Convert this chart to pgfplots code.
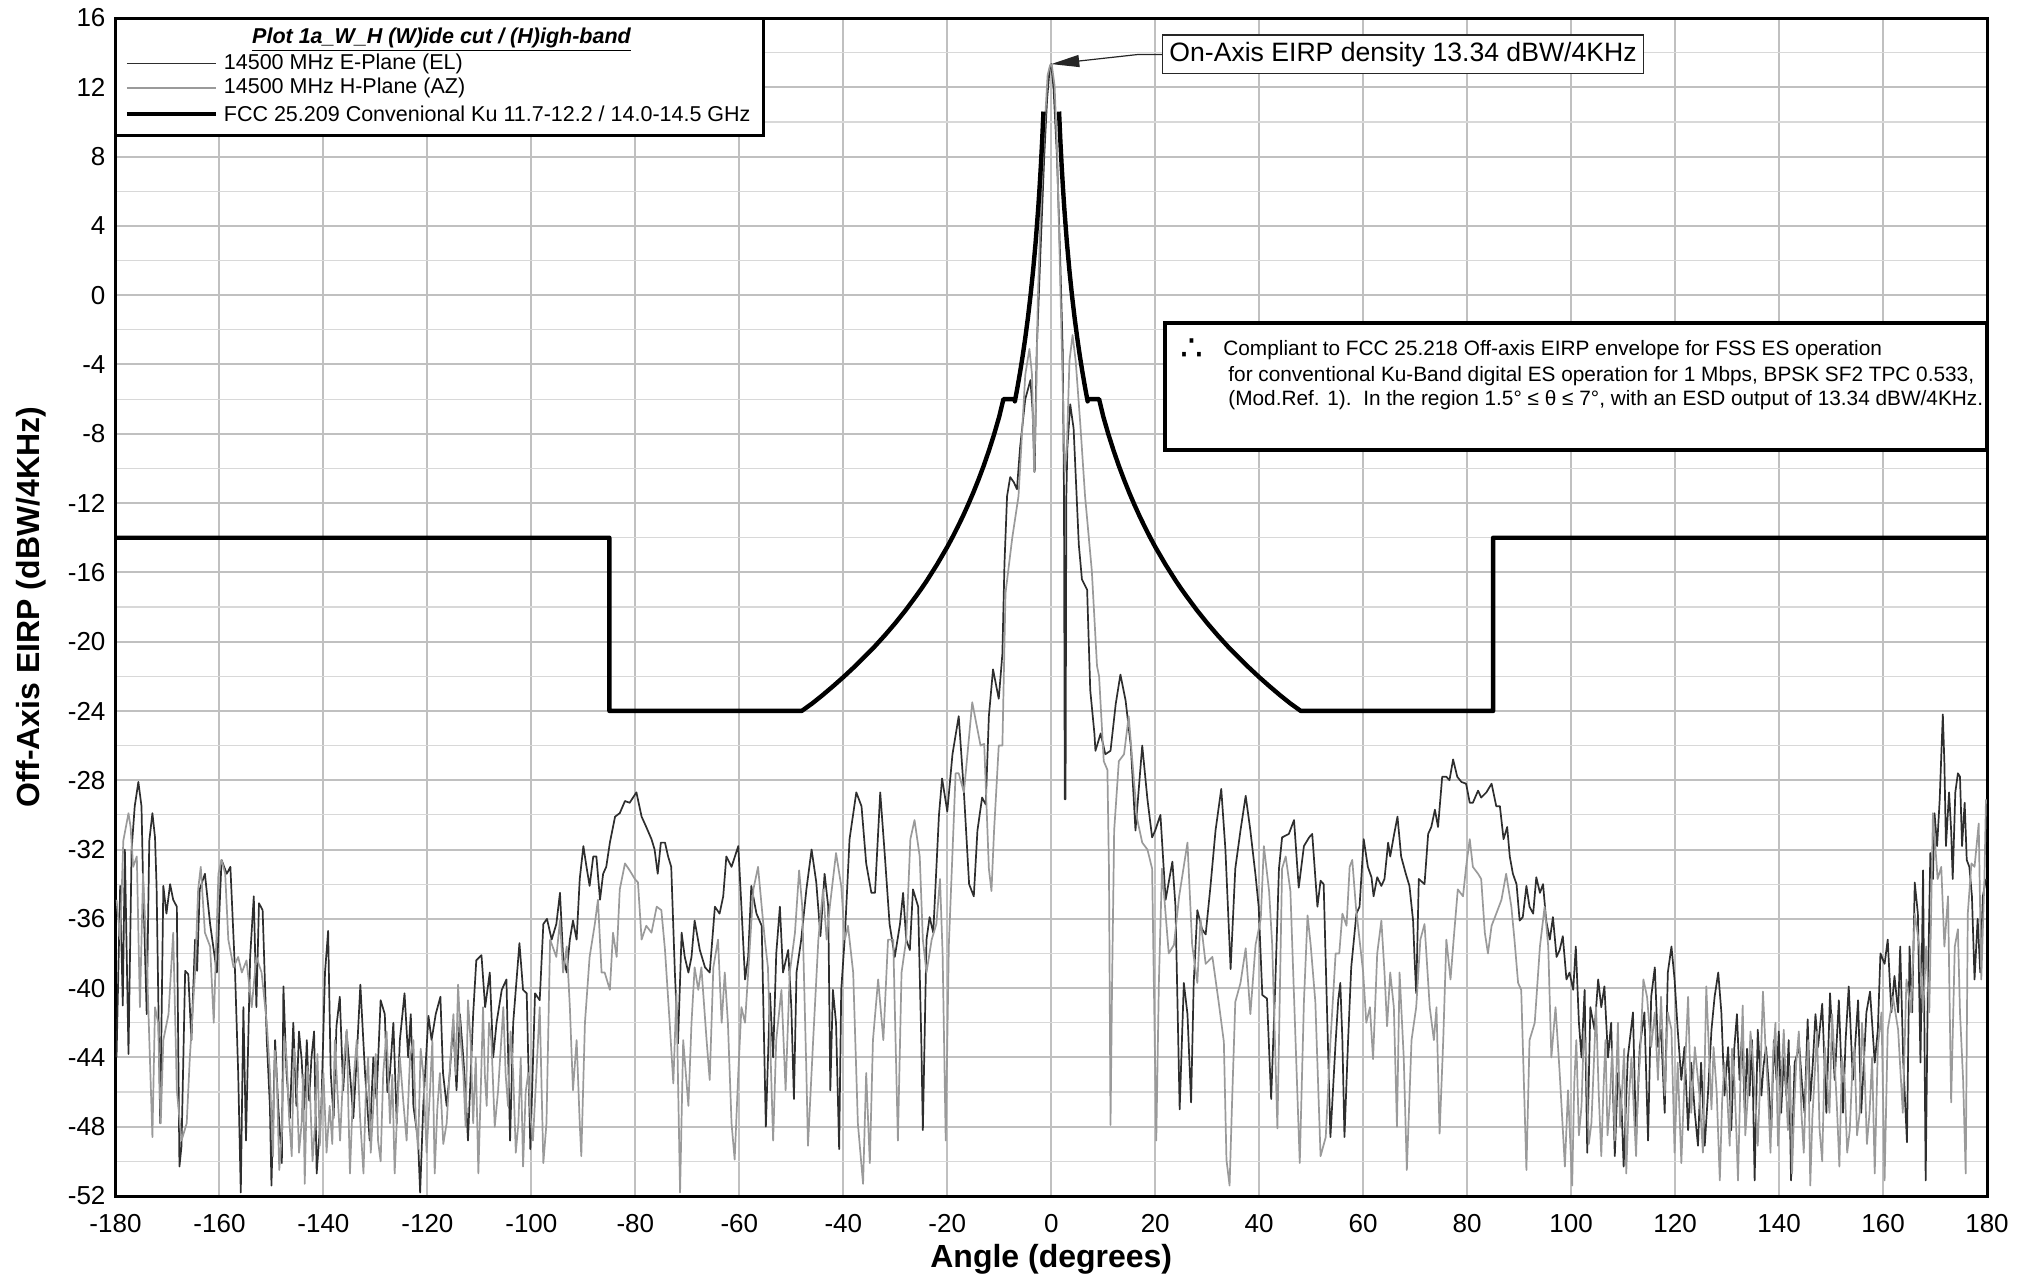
\documentclass[border=0pt]{standalone}
\usepackage{pgfplots}
\pgfplotsset{compat=1.18}
\usepackage{fontspec}
\setmainfont{Liberation Sans}
\newfontfamily\dejavu{DejaVu Sans}
\usetikzlibrary{arrows.meta}
\definecolor{eplane}{HTML}{2E2E2E}
\definecolor{hplane}{HTML}{9A9A9A}
\definecolor{gridmaj}{HTML}{C0C0C0}
\definecolor{gridmin}{HTML}{D8D8D8}
\begin{document}
\begin{tikzpicture}
\begin{axis}[
  width=935.75pt, height=589pt, scale only axis,
  xmin=-180, xmax=180, ymin=-52, ymax=16,
  xtick={-180,-160,...,180},
  xticklabels={-180,-160,-140,-120,-100,-80,-60,-40,-20,0,20,40,60,80,100,120,140,160,180},
  ytick={-52,-48,...,16},
  yticklabels={-52,-48,-44,-40,-36,-32,-28,-24,-20,-16,-12,-8,-4,0,4,8,12,16},
  minor ytick={-50,-46,...,14},
  major tick length=0pt, minor tick length=0pt,
  grid=both,
  major grid style={draw=gridmaj, line width=1pt},
  minor grid style={draw=gridmin, line width=0.6pt},
  axis line style={line width=1.5pt, black},
  tick label style={font=\fontsize{13}{13}\selectfont},
  yticklabel style={xshift=-1.5pt},
  xticklabel style={yshift=-5.5pt},
  xlabel={Angle (degrees)},
  ylabel={Off-Axis EIRP (dBW/4KHz)},
  label style={font=\fontsize{16}{16}\selectfont\bfseries},
  xlabel style={at={(axis description cs:0.5,-0.0539)}, anchor=center},
  ylabel style={at={(axis description cs:-0.04515,0.5)}, anchor=center},
]
\addplot[eplane, line width=0.85pt, line join=round] coordinates {
(-179.8,-44) (-179.1,-34.1) (-178.6,-41) (-178.2,-32) (-177.5,-43.8) (-176.9,-32) (-176.3,-29.5) (-175.6,-28.1) (-175.0,-29.5) (-174.7,-33.8) (-174.0,-41.5) (-173.5,-31.5) (-172.9,-29.9) (-172.4,-31.3) (-172.1,-34.1) (-171.4,-47.8) (-170.8,-34.1) (-170.2,-35.7) (-169.5,-34) (-168.9,-34.9) (-168.2,-35.3) (-167.7,-50.3) (-167.3,-49.1) (-166.6,-39) (-166.0,-39.2) (-165.4,-43) (-164.7,-37.2) (-164.3,-39) (-163.8,-34.3) (-162.8,-33.4) (-161.8,-36.3) (-160.5,-39.1) (-159.6,-32.6) (-158.6,-33.4) (-157.9,-33) (-157.0,-39.1) (-156.4,-44.9) (-155.9,-51.8) (-155.4,-41.1) (-154.9,-48.8) (-154.1,-38.2) (-153.4,-34.7) (-152.9,-41.1) (-152.4,-35.1) (-151.7,-35.5) (-150.9,-43) (-150.3,-46.8) (-150.0,-51.4) (-149.3,-43) (-148.7,-46.8) (-148.0,-50.1) (-147.7,-39.9) (-147.1,-44.9) (-146.45,-47.5) (-145.8,-42) (-145.2,-46.8) (-144.7,-42.5) (-144.2,-44.1) (-143.7,-47) (-143.2,-43) (-142.75,-46.5) (-142.3,-44) (-141.8,-42.5) (-141.3,-50.7) (-140.4,-46.8) (-139.7,-39.1) (-139.1,-36.7) (-138.6,-44.9) (-138.05,-47.5) (-137.5,-42.2) (-136.85,-40.5) (-136.2,-45.9) (-135.55,-42.5) (-134.9,-44.9) (-134.25,-47.5) (-133.6,-44) (-132.9,-39.8) (-132.0,-44.9) (-131.1,-48.8) (-130.4,-44) (-129.8,-46.4) (-129.0,-40.7) (-128.2,-41.5) (-127.7,-46) (-127.2,-44.9) (-126.55,-42) (-125.9,-47.8) (-125.3,-43) (-124.4,-40.3) (-123.7,-44) (-123.2,-41.5) (-122.7,-46.8) (-121.8,-48.8) (-121.4,-51.8) (-120.8,-46.8) (-119.8,-41.6) (-119.2,-43) (-118.4,-41.5) (-117.5,-40.5) (-117.0,-44.9) (-116.3,-46.8) (-115.7,-44.9) (-115.05,-42) (-114.4,-45.9) (-113.75,-41.5) (-113.1,-44) (-112.65,-46) (-112.2,-48.8) (-111.2,-41.5) (-110.6,-38.4) (-109.6,-38.1) (-108.9,-41.1) (-108.0,-39.1) (-107.35,-44) (-106.7,-42) (-105.7,-40.1) (-104.8,-39.5) (-104.1,-48.8) (-103.5,-42) (-102.3,-37.4) (-101.6,-40.1) (-100.9,-40.3) (-100.2,-49.3) (-99.3,-40.3) (-98.4,-40.7) (-97.7,-36.3) (-97.0,-36) (-96.1,-37.2) (-95.2,-36.3) (-94.5,-34.5) (-93.9,-38.2) (-93.2,-39.1) (-92.6,-37.2) (-92.0,-36.1) (-91.3,-37.2) (-90.7,-33.7) (-90.0,-31.8) (-89.4,-33) (-88.8,-34.1) (-88.1,-32.4) (-87.5,-32.4) (-86.8,-34.9) (-86.2,-33.4) (-85.6,-33) (-84.9,-31.6) (-83.9,-30.1) (-83.0,-29.9) (-82.0,-29.2) (-81.1,-29.3) (-79.8,-28.7) (-78.8,-30.1) (-77.9,-30.7) (-76.9,-31.4) (-76.3,-32) (-75.7,-33.4) (-75.1,-31.6) (-74.3,-31.6) (-73.7,-32.4) (-73.1,-33) (-72.4,-39.1) (-71.8,-43.2) (-71.1,-36.8) (-70.5,-38.2) (-69.8,-39.1) (-69.2,-38.2) (-68.6,-36.1) (-67.6,-37.8) (-66.6,-38.8) (-65.7,-39.1) (-64.7,-35.3) (-63.8,-35.7) (-63.1,-34.7) (-62.5,-32.4) (-61.5,-33) (-60.2,-31.8) (-59.6,-35.3) (-58.9,-39.5) (-58.3,-38.2) (-57.7,-34.1) (-56.7,-35.7) (-55.7,-36.4) (-54.9,-48) (-54.1,-40.3) (-53.5,-44) (-52.9,-38) (-52.2,-35.3) (-51.6,-39.1) (-50.6,-37.8) (-50.0,-41.1) (-49.5,-46.4) (-49.0,-39.1) (-48.1,-37.2) (-47.1,-34.3) (-46.1,-32) (-45.2,-33.9) (-44.4,-37) (-43.6,-33.4) (-42.9,-35.3) (-42.5,-45.9) (-42.0,-40.1) (-41.4,-42) (-40.8,-49.3) (-40.4,-40.1) (-39.7,-37) (-38.8,-31.4) (-37.5,-28.7) (-36.5,-29.5) (-35.6,-32.8) (-34.6,-34.5) (-33.9,-34.5) (-32.9,-28.7) (-32.0,-32.4) (-31.1,-36.3) (-30.1,-38.2) (-29.1,-36.3) (-28.5,-34.5) (-27.9,-37.2) (-27.2,-37.8) (-26.6,-34.3) (-25.6,-35.3) (-25.0,-43) (-24.7,-48.2) (-24.0,-37.2) (-23.4,-35.9) (-22.7,-36.8) (-21.6,-30) (-21.0,-27.9) (-20.0,-29.8) (-19.0,-26.5) (-17.8,-24.3) (-16.8,-28.7) (-15.8,-34) (-14.9,-34.7) (-14.2,-30.9) (-13.3,-29) (-12.6,-29.4) (-12.0,-24.3) (-11.2,-21.6) (-10.1,-23.3) (-9.4,-20.7) (-9.0,-15.5) (-8.5,-11.6) (-7.9,-10.5) (-7.2,-10.8) (-6.6,-11.2) (-6.0,-8.8) (-5.0,-6) (-4.0,-4.9) (-3.6,-6.6) (-3.2,-10.2) (-2.8,-3.2) (-2.1,2.3) (-1.35,8) (-0.8,11.3) (-0.3,13.1) (0,13.34) (0.45,11.9) (1.1,8) (1.7,2.3) (2.2,-3.2) (2.45,-11.6) (2.6,-29.1) (2.75,-29.1) (2.9,-11.6) (3.1,-8.8) (3.65,-6.3) (4.3,-7.7) (5.3,-14.4) (5.9,-16.4) (6.9,-17) (7.5,-22.8) (8.3,-25.3) (8.5,-26.3) (9.5,-25.3) (10.4,-26.5) (11.4,-26.3) (12.4,-23.6) (13.3,-21.9) (14.3,-23.4) (15.3,-26) (16.2,-30.9) (17.5,-26) (18.5,-29.1) (19.4,-31.3) (20,-30.9) (21,-30) (22,-34.9) (23.3,-32.7) (23.9,-35.3) (24.7,-47) (25.5,-39.7) (26.2,-41.5) (26.9,-46.6) (27.4,-39.7) (28.1,-35.5) (29,-36.6) (29.7,-36.9) (30.6,-34.2) (31.6,-30.9) (32.7,-28.5) (33.5,-32) (34.5,-38.9) (35.4,-33.1) (36.4,-30.9) (37.4,-28.9) (38.3,-30.9) (39.3,-33.5) (39.9,-35.3) (40.6,-40.4) (41.5,-40.6) (42.3,-46.4) (43.1,-39.7) (43.8,-33.1) (44.4,-31.3) (45.7,-31.1) (46.7,-30.3) (47.6,-34.2) (48.6,-31.8) (49.6,-31.3) (50.2,-31.1) (51.2,-35.3) (51.8,-33.8) (52.4,-34) (53.1,-41.9) (53.7,-48.6) (54.7,-43.1) (55.2,-40.7) (55.6,-39.7) (56.0,-43) (56.4,-48.6) (57.1,-43) (57.7,-38.8) (58.7,-35.7) (59.3,-35.3) (60.1,-31.4) (60.9,-33) (61.6,-33.6) (62.0,-34.7) (62.7,-33.6) (63.5,-34.1) (64.1,-33.7) (64.8,-31.6) (65.2,-32.4) (65.9,-31.2) (66.6,-30.1) (67.3,-32.4) (68.2,-33.4) (68.9,-34.1) (69.6,-36.1) (69.9,-38.4) (70.2,-40.3) (70.7,-33.7) (71.8,-34) (72.5,-31.1) (73.1,-30.7) (73.8,-29.7) (74.4,-30.7) (75.2,-27.8) (76.0,-27.8) (76.6,-28) (77.3,-26.8) (78.1,-27.8) (78.9,-28.1) (79.8,-28.2) (80.5,-29.3) (81.1,-29.3) (82.1,-28.6) (82.7,-29) (83.7,-28.7) (84.7,-28.2) (85.6,-29.5) (86.3,-29.5) (87.0,-31.4) (87.7,-30.7) (88.2,-32.4) (88.8,-33.4) (89.5,-34) (90.1,-36.1) (90.7,-35.9) (91.4,-34.1) (92.0,-35.3) (92.7,-35.7) (93.3,-33.6) (94.0,-34.5) (94.6,-34) (95.2,-36.1) (95.9,-37.2) (96.5,-35.9) (97.2,-38.2) (97.8,-37.8) (98.4,-37) (99.1,-39.5) (99.7,-39.1) (100.4,-40.1) (100.9,-37.6) (101.5,-42) (102.0,-44) (102.6,-40.1) (103.1,-49.5) (103.7,-41.1) (104.5,-42.4) (105.2,-39.5) (105.8,-41.1) (106.4,-39.9) (107.1,-44) (107.7,-42) (108.4,-49.7) (109.0,-44.9) (109.7,-46.8) (110.1,-50.3) (110.9,-44) (111.9,-41.4) (112.5,-48.8) (113.2,-43.4) (114.1,-41.4) (114.8,-48.8) (115.4,-40.5) (116.1,-38.8) (116.7,-43.4) (117.3,-42.4) (118.0,-47.2) (118.6,-39.1) (119.3,-37.6) (119.9,-39.5) (120.5,-42.4) (121.2,-45.3) (121.8,-43.4) (122.5,-48.2) (123.1,-44.3) (123.8,-47.2) (124.4,-49.1) (125.0,-44.3) (125.7,-49.1) (126.3,-46.2) (127.0,-42.4) (127.6,-40.5) (128.3,-39.1) (128.9,-41.4) (129.5,-46.2) (130.2,-43.4) (130.8,-48.2) (131.4,-43.4) (131.9,-41.5) (132.4,-45.3) (132.9,-42.5) (133.4,-47.2) (133.85,-43.5) (134.3,-46.2) (134.8,-43) (135.3,-51.1) (135.9,-42.4) (136.6,-46.2) (137.0,-44.5) (137.5,-43.4) (138.0,-45.5) (138.5,-48.2) (139.0,-43) (139.5,-45.3) (139.95,-42.5) (140.4,-47.2) (140.9,-44) (141.4,-46.2) (141.85,-43) (142.3,-51.1) (143.0,-44.3) (143.9,-43.4) (144.4,-45.5) (144.9,-47.2) (145.5,-41.8) (146.0,-46.5) (146.5,-44.3) (147.0,-41.5) (147.5,-43.4) (148.3,-40.9) (149.1,-47.2) (149.8,-40.3) (150.7,-45.3) (151.5,-40.7) (152.3,-47.2) (152.8,-43) (153.4,-39.9) (154.2,-45.3) (155.2,-40.7) (155.8,-47.2) (156.8,-41.4) (157.5,-40.2) (158.4,-44.3) (159.0,-42.4) (159.5,-38) (160.3,-38.6) (160.9,-37.2) (161.6,-41.4) (162.2,-39.3) (162.9,-41.4) (163.3,-37.6) (163.9,-44.3) (164.6,-48.9) (165.1,-37.6) (165.6,-41.4) (166.1,-33.9) (166.7,-35.7) (167.2,-44.3) (167.7,-33.2) (168.2,-51.1) (168.6,-40.5) (169.1,-32.2) (169.6,-33.7) (169.9,-29.9) (170.4,-31.8) (170.9,-29.1) (171.2,-26.6) (171.5,-24.2) (171.8,-27) (172.1,-31.8) (172.7,-28.7) (173.1,-30.9) (173.4,-33.7) (173.9,-28.7) (174.4,-27.6) (174.8,-27.8) (175.2,-31.8) (175.7,-29.3) (176.1,-32.6) (176.6,-33) (177.1,-34.7) (177.6,-39.5) (178.2,-36) (178.7,-39.1) (179.2,-34.7) (179.8,-33.7)
};
\addplot[hplane, line width=0.85pt, line join=round] coordinates {
(-179.8,-34.9) (-179.1,-37.2) (-178.5,-31.5) (-177.5,-29.9) (-177.1,-30.7) (-176.6,-33) (-175.9,-32.4) (-175.3,-41.1) (-174.7,-33.4) (-174.0,-38.2) (-172.9,-48.6) (-172.4,-41.1) (-171.8,-42) (-171.3,-47.8) (-170.8,-43) (-169.8,-41.5) (-168.9,-36.8) (-168.2,-45.9) (-167.3,-48.8) (-166.3,-47.8) (-165.7,-44) (-164.7,-39.1) (-164.1,-34.3) (-163.6,-33) (-162.8,-36.8) (-161.8,-37.6) (-161.1,-42) (-160.2,-33.4) (-159.6,-32.6) (-158.9,-33.4) (-158.3,-37.2) (-157.3,-38.8) (-156.4,-38.2) (-155.7,-39.1) (-154.8,-38.4) (-153.8,-41.1) (-152.9,-38.2) (-151.9,-39.1) (-150.9,-42)
(-150.3,-44.9) (-150.0,-47.5) (-149.7,-49.7) (-149.35,-43.6) (-149.0,-44.9) (-148.5,-50.5) (-148.0,-48.4) (-147.55,-42.8) (-147.1,-44) (-146.6,-47.5) (-146.1,-49.7) (-145.65,-43.5) (-145.2,-44.9) (-144.7,-49.5) (-144.2,-47.8) (-143.9,-45) (-143.6,-51.3) (-143.1,-44.5) (-142.6,-45.9) (-142.1,-50) (-141.6,-47.8) (-141.15,-43.8) (-140.7,-49.1) (-140.35,-46.5) (-140.0,-44.9) (-139.4,-49.5) (-138.8,-46.8) (-138.3,-49) (-137.8,-43) (-137.3,-46) (-136.8,-48.8) (-136.15,-44.5) (-135.5,-42.4) (-135.2,-47) (-134.9,-50.7) (-134.25,-45.5) (-133.6,-43) (-132.95,-47.5) (-132.3,-50.7) (-131.85,-46) (-131.4,-44) (-130.9,-49.5) (-130.4,-46.8) (-129.95,-43.8) (-129.5,-48.8) (-129.0,-50) (-128.5,-44.9) (-127.85,-42.5) (-127.2,-47.8) (-126.75,-45) (-126.3,-50.7) (-125.8,-47) (-125.3,-44) (-124.65,-46.5) (-124.0,-48.8) (-123.35,-44) (-122.7,-43) (-122.25,-47.5) (-121.8,-49.3) (-121.3,-43.5) (-120.8,-44.9) (-120.15,-49.5) (-119.5,-45.9) (-119.05,-43) (-118.6,-50.7) (-118.1,-47) (-117.6,-44.9) (-116.95,-49) (-116.3,-47.8) (-115.65,-44.5) (-115.0,-41.5) (-114.55,-45) (-114.1,-39.8) (-113.6,-43) (-113.1,-44.9) (-112.65,-48) (-112.2,-40.7) (-111.7,-43) (-111.2,-47.8) (-110.7,-44) (-110.2,-50.7) (-109.75,-46) (-109.3,-41.1) (-108.95,-45) (-108.6,-46.8) (-108.15,-42) (-107.7,-43) (-107.05,-48) (-106.4,-45.9) (-105.9,-43.5) (-105.4,-41.1) (-104.95,-45) (-104.5,-46.8) (-104.0,-42.5) (-103.5,-44.9) (-103.0,-49.5) (-102.5,-47.8) (-102.05,-44) (-101.6,-50.3) (-101.1,-46) (-100.6,-44.9) (-100.15,-47.5) (-99.7,-48.8) (-99.05,-45) (-98.4,-41.1)
(-97.7,-50.1) (-97.1,-47.8) (-96.4,-37.2) (-95.2,-38.2) (-94.5,-36.1) (-93.9,-39.1) (-93.2,-37.6) (-92.6,-41.1) (-92.0,-45.9) (-91.3,-43) (-90.7,-47.8) (-90.4,-49.7) (-89.7,-42) (-88.8,-38.2) (-87.8,-36.3) (-87.2,-34.9) (-86.5,-39.1) (-85.9,-39.1) (-84.9,-40.1) (-84.3,-36.8) (-83.6,-38.2) (-83.0,-34.3) (-82.0,-32.8) (-81.1,-33.2) (-80.1,-33.7) (-79.5,-33.9) (-78.8,-37.2) (-77.9,-36.4) (-76.9,-36.8) (-75.9,-35.3) (-75.0,-35.5) (-74.3,-37.8) (-73.4,-42) (-72.7,-45.5) (-72.1,-40.3) (-71.4,-51.8) (-70.8,-43) (-69.8,-46.8) (-69.2,-42) (-68.6,-38.8) (-67.9,-40.1) (-67.3,-38.8) (-66.3,-43) (-65.7,-45.3) (-65.0,-38.8) (-64.1,-37.2) (-63.4,-42) (-62.8,-39.1) (-62.2,-42) (-61.5,-47.8) (-60.9,-49.9) (-60.2,-44.9) (-59.6,-41.1) (-58.9,-42) (-58.3,-39.1) (-57.3,-34.3) (-56.4,-33) (-55.7,-35.3) (-55.1,-37.2) (-54.5,-38.8) (-53.5,-48.8) (-52.9,-43) (-51.9,-40.1) (-51.1,-45.9) (-50.3,-39.1) (-49.3,-36.8) (-48.5,-33.2) (-47.9,-35.3) (-47.1,-44.9) (-46.8,-49.1) (-45.8,-43) (-44.8,-37.2) (-43.9,-34.3) (-43.2,-37.2) (-42.6,-35.3) (-41.4,-32.2) (-40.4,-34.1) (-39.7,-37.2) (-39.1,-36.4) (-38.1,-39.1) (-37.2,-47.8) (-36.2,-51.3) (-35.6,-44.9) (-34.9,-50.1) (-34.3,-43) (-33.3,-39.5) (-32.3,-43) (-31.4,-37.2) (-30.4,-37.2) (-29.5,-48.8) (-28.8,-39.1) (-27.9,-37.2) (-27.1,-31.4) (-26.3,-30.3) (-25.3,-32.4) (-24.7,-37.2) (-24.0,-39.1) (-23.0,-37.2) (-22.1,-36.3) (-21.4,-33.7) (-20.9,-38) (-20.3,-48.8) (-19.7,-37.5) (-18.4,-27.6) (-17.8,-27.6) (-16.8,-28.7) (-15.2,-23.5) (-13.6,-26) (-12.9,-25.9) (-12.0,-33.1) (-11.5,-34.4) (-11.0,-30.9) (-10.1,-26) (-9.4,-26) (-8.8,-17.2) (-7.5,-14) (-6.3,-11.6) (-5.0,-4.6) (-4.2,-3.1) (-3.7,-4.6) (-3.3,-10.2) (-2.9,-6) (-2.6,-0.4) (-2.0,5.1) (-1.35,9.3) (-0.7,12.7) (-0.2,13.3) (0.1,13.3) (0.64,12.1) (1.1,8.5) (1.5,3.7) (2.05,-3.3) (2.6,-10.2) (3.0,-8.8) (3.5,-3.8) (4.1,-2.3) (4.7,-3.8) (5.6,-7.5) (6.5,-11.6) (7.8,-15.9) (8.8,-21.4) (9.2,-22) (10.1,-26.9) (10.8,-27.4) (11.1,-33.1) (11.4,-47.9) (11.7,-39.7) (12.1,-30.9) (13.0,-26.9) (14.0,-26.5) (14.9,-24.3) (15.6,-26.9) (16.5,-30.2) (17.5,-31.6) (18.5,-32) (19.4,-33.1) (20.2,-48.8) (20.7,-39.7) (21.3,-33.1) (22.6,-38) (23.6,-37.5) (24.6,-34.7) (26.2,-31.6) (27.1,-37.5) (28.1,-39.7) (28.7,-36) (29.7,-38.6) (31.0,-38.2) (32.2,-40.8) (33.2,-43.1) (33.7,-49.9) (34.3,-51.4) (34.8,-46.4) (35.4,-40.8) (36.4,-39.7) (37.4,-37.7) (38.3,-41.5) (39.3,-37.5) (40.3,-36) (40.9,-31.8) (41.9,-34.4) (42.5,-37.5) (43.5,-48.1) (44.4,-33.1) (45.1,-32.4) (46.0,-34.4) (47.0,-43.1) (47.8,-50.1) (48.6,-40.8) (49.3,-35.8) (49.9,-37.5) (50.8,-40.8) (51.8,-49.7) (52.8,-48.6) (53.7,-43.1) (54.7,-38) (55.4,-38) (56.0,-35.7) (56.8,-36.4) (57.4,-33) (57.9,-32.6) (58.6,-35.3) (59.3,-37.2) (60.0,-39.1) (60.6,-42) (61.3,-41.1) (61.9,-44.1) (62.7,-38) (63.5,-36.1) (64.1,-39.1) (64.6,-42.2) (65.2,-39.1) (65.9,-41.1) (66.5,-48) (67.0,-39.1) (67.8,-44) (68.4,-50.5) (69.3,-43) (70.2,-41.1) (71.0,-37.2) (71.8,-36.3) (72.8,-41.1) (73.6,-43) (74.1,-41.1) (74.7,-48.4) (75.4,-43) (76.0,-37.2) (76.8,-39.5) (77.4,-37.2) (78.2,-34.3) (79.2,-34.7) (79.8,-33) (80.5,-31.4) (81.1,-33) (82.1,-33.4) (82.7,-33.7) (83.4,-36.8) (84.0,-38) (84.7,-36.4) (85.6,-35.7) (86.6,-34.9) (87.5,-33.4) (88.5,-35.3) (89.1,-37.2) (89.8,-39.7) (90.4,-40.1) (91.4,-50.5) (92.0,-43) (93.0,-42) (94.0,-37.6) (94.9,-35.3) (95.6,-37.6) (96.2,-44) (97.0,-41.1) (97.8,-44.9) (98.8,-50.3) (99.4,-45.9)
(100.2,-51.4) (100.6,-45.5) (101.0,-43) (101.5,-48.5) (102.0,-46.8) (102.45,-42.5) (102.9,-44) (103.4,-49) (103.9,-47.8) (104.35,-44.5) (104.8,-41.1) (105.3,-46) (105.8,-49.7) (106.2,-46) (106.6,-43) (107.0,-48.5) (107.4,-46.8) (107.9,-43.5) (108.4,-48.8) (108.7,-45) (109.0,-42) (109.4,-48) (109.8,-45.9) (110.2,-43.5) (110.6,-50.7) (111.1,-46.5) (111.6,-44) (112.05,-47) (112.5,-49.7) (112.85,-45.5) (113.2,-44.3) (113.9,-39.5) (114.6,-40.5) (115.4,-43.4) (116.1,-41.4) (116.7,-45.3) (117.3,-40.5) (118.0,-46.2) (118.6,-41.4) (119.3,-42.4) (119.9,-49.5) (120.5,-44.3) (121.2,-50.1) (121.8,-45.3) (122.5,-40.5) (123.1,-47.2) (123.8,-43.4) (124.7,-46.2) (125.35,-49.5) (126.0,-39.9) (126.6,-44.3) (127.0,-47) (127.4,-43.4) (128.0,-46) (128.6,-51.1) (129.05,-46.5) (129.5,-44.3) (130.0,-46) (130.5,-49.1) (130.95,-43.5) (131.4,-45.3) (131.75,-48) (132.1,-51.1) (132.55,-45.5) (133.0,-41) (133.5,-48.5) (134.0,-46.2) (134.5,-42.5) (135.0,-44.3) (135.45,-46.5) (135.9,-49.1) (136.4,-45) (136.9,-40.2) (137.4,-43.5) (137.9,-46.2) (138.35,-49.5) (138.8,-44.3) (139.3,-42) (139.8,-49.1) (140.35,-46) (140.9,-42.4) (141.3,-45.5) (141.7,-48.2) (142.1,-44.5) (142.5,-50.7) (142.9,-47) (143.3,-44.3) (143.8,-42.5) (144.3,-47.2) (144.75,-49.5) (145.2,-45.3) (145.6,-43) (146.0,-51.4) (146.4,-47.5) (146.8,-45.3) (147.3,-42.5) (147.8,-48.2) (148.3,-50) (148.8,-43.4) (149.25,-45.5) (149.7,-47.2) (150.2,-41.5) (150.7,-44.3) (151.15,-47) (151.6,-50.3) (152.1,-44) (152.6,-45.3) (153.1,-49.5) (153.6,-48.2) (154.05,-45) (154.5,-43.4) (155.0,-48.5) (155.5,-47.2) (155.95,-42) (156.4,-44.3) (156.9,-49) (157.4,-47.2) (157.9,-44) (158.4,-50.7) (159.0,-43.4)
(159.7,-41.4) (160.3,-51.1) (160.9,-42.4) (161.9,-40.5) (162.9,-42.4) (163.8,-47.2) (164.5,-39.5) (165.4,-41.4) (166.1,-35.7) (167.0,-37.6) (167.7,-41.4) (168.3,-37.6) (168.9,-41.4) (169.6,-29.9) (170.5,-33.7) (171.2,-33) (171.8,-37.6) (172.5,-34.7) (173.1,-46.6) (173.8,-37.6) (174.4,-36.6) (174.8,-41.4) (175.4,-45.3) (175.9,-50.7) (176.3,-35.7) (177.0,-32.8) (177.6,-33) (178.4,-30.5) (178.9,-39.5) (179.5,-33.7) (179.8,-29.1)
};
\addplot[black, line width=2.2pt, line join=round] coordinates {
(-180,-14) (-85,-14) (-85,-24) (-48,-24) (-46,-23.57) (-44,-23.09) (-42,-22.58) (-40,-22.05) (-38,-21.49) (-37,-21.2) (-35,-20.6) (-34,-20.29) (-32,-19.63) (-31,-19.28) (-30,-18.93) (-28,-18.18) (-26,-17.37) (-25,-16.95) (-24,-16.51) (-22,-15.56) (-20,-14.53) (-19,-13.97) (-18,-13.38) (-17,-12.76) (-16,-12.1) (-15,-11.4) (-14,-10.65) (-13,-9.85) (-12,-8.98) (-11,-8.04) (-10,-7) (-9.2,-6) (-7,-6) (-7,-6.13) (-6.5,-5.32) (-6,-4.45) (-5.5,-3.51) (-5,-2.47) (-4.5,-1.33) (-4,-0.05) (-3.5,1.4) (-3,3.07) (-2.5,5.05) (-2.25,6.2) (-2,7.47) (-1.75,8.92) (-1.5,10.6)
};
\addplot[black, line width=2.2pt, line join=round] coordinates {
(1.5,10.6) (1.75,8.92) (2,7.47) (2.25,6.2) (2.5,5.05) (3,3.07) (3.5,1.4) (4,-0.05) (4.5,-1.33) (5,-2.47) (5.5,-3.51) (6,-4.45) (6.5,-5.32) (7,-6.13) (7,-6) (9.2,-6) (10,-7) (11,-8.04) (12,-8.98) (13,-9.85) (14,-10.65) (15,-11.4) (16,-12.1) (17,-12.76) (18,-13.38) (19,-13.97) (20,-14.53) (22,-15.56) (24,-16.51) (25,-16.95) (26,-17.37) (28,-18.18) (30,-18.93) (31,-19.28) (32,-19.63) (34,-20.29) (35,-20.6) (37,-21.2) (38,-21.49) (40,-22.05) (42,-22.58) (44,-23.09) (46,-23.57) (48,-24) (85,-24) (85,-14) (180,-14)
};
\coordinate (NW) at (rel axis cs:0,1);
\coordinate (SW) at (rel axis cs:0,0);
\coordinate (tip) at (axis cs:0,13.34);
\end{axis}
\begin{scope}[shift={(NW)}]
  % legend box
  \draw[line width=1.5pt, fill=white] (0,0) rectangle (323.75pt,-58.5pt);
  \node[font=\fontsize{10.75}{12}\selectfont\bfseries\itshape, inner sep=0pt] at (163pt,-11pt) {\underline{Plot 1a\_W\_H (W)ide cut / (H)igh-band}};
  \draw[eplane, line width=0.75pt] (5.75pt,-22.8pt) -- (50.25pt,-22.8pt);
  \node[anchor=west, inner sep=0pt, font=\fontsize{10.75}{12}\selectfont] at (54pt,-22.8pt) {14500 MHz E-Plane (EL)};
  \draw[hplane, line width=0.75pt] (5.75pt,-35.1pt) -- (50.25pt,-35.1pt);
  \node[anchor=west, inner sep=0pt, font=\fontsize{10.75}{12}\selectfont] at (54pt,-35.1pt) {14500 MHz H-Plane (AZ)};
  \draw[black, line width=2.2pt] (5.75pt,-48pt) -- (50.25pt,-48pt);
  \node[anchor=west, inner sep=0pt, font=\fontsize{10.75}{12}\selectfont] at (54pt,-48pt) {FCC 25.209 Convenional Ku 11.7-12.2 / 14.0-14.5 GHz};
  % on-axis annotation
  \node[draw=black!85, line width=0.6pt, fill=white, inner xsep=3.5pt, inner ysep=3.5pt, font=\fontsize{13.3}{14}\selectfont] (oa) at (643.75pt,-18.2pt) {On-Axis EIRP density 13.34 dBW/4KHz};
  % compliance note
  \draw[line width=1.75pt, fill=white] (524.75pt,-152.5pt) rectangle (935.75pt,-216pt);
  \node[anchor=center, inner sep=0pt, font=\dejavu\fontsize{18}{18}\selectfont] at (538pt,-166pt) {∴};
  \node[anchor=base west, inner sep=0pt, font=\fontsize{10.4}{12}\selectfont] at (553.75pt,-168.7pt) {Compliant to FCC 25.218 Off-axis EIRP envelope for FSS ES operation};
  \node[anchor=base west, inner sep=0pt, font=\fontsize{10.4}{12}\selectfont] at (556.25pt,-181.5pt) {for conventional Ku-Band digital ES operation for 1 Mbps, BPSK SF2 TPC 0.533,};
  \node[anchor=base west, inner sep=0pt, font=\fontsize{10.4}{12}\selectfont] at (556.25pt,-193.7pt) {(Mod.Ref. 1).\ \ In the region 1.5° ≤ θ ≤ 7°, with an ESD output of 13.34 dBW/4KHz.};
\end{scope}
\draw[line width=0.6pt, black!85, -{Triangle[length=14pt,width=6pt]}] (oa.west) -- ++(-11.5pt,0) -- (tip);
\pgfresetboundingbox
\path ([xshift=-57.75pt,yshift=-42pt]SW) rectangle ++(1017pt,640pt);
\end{tikzpicture}
\end{document}
